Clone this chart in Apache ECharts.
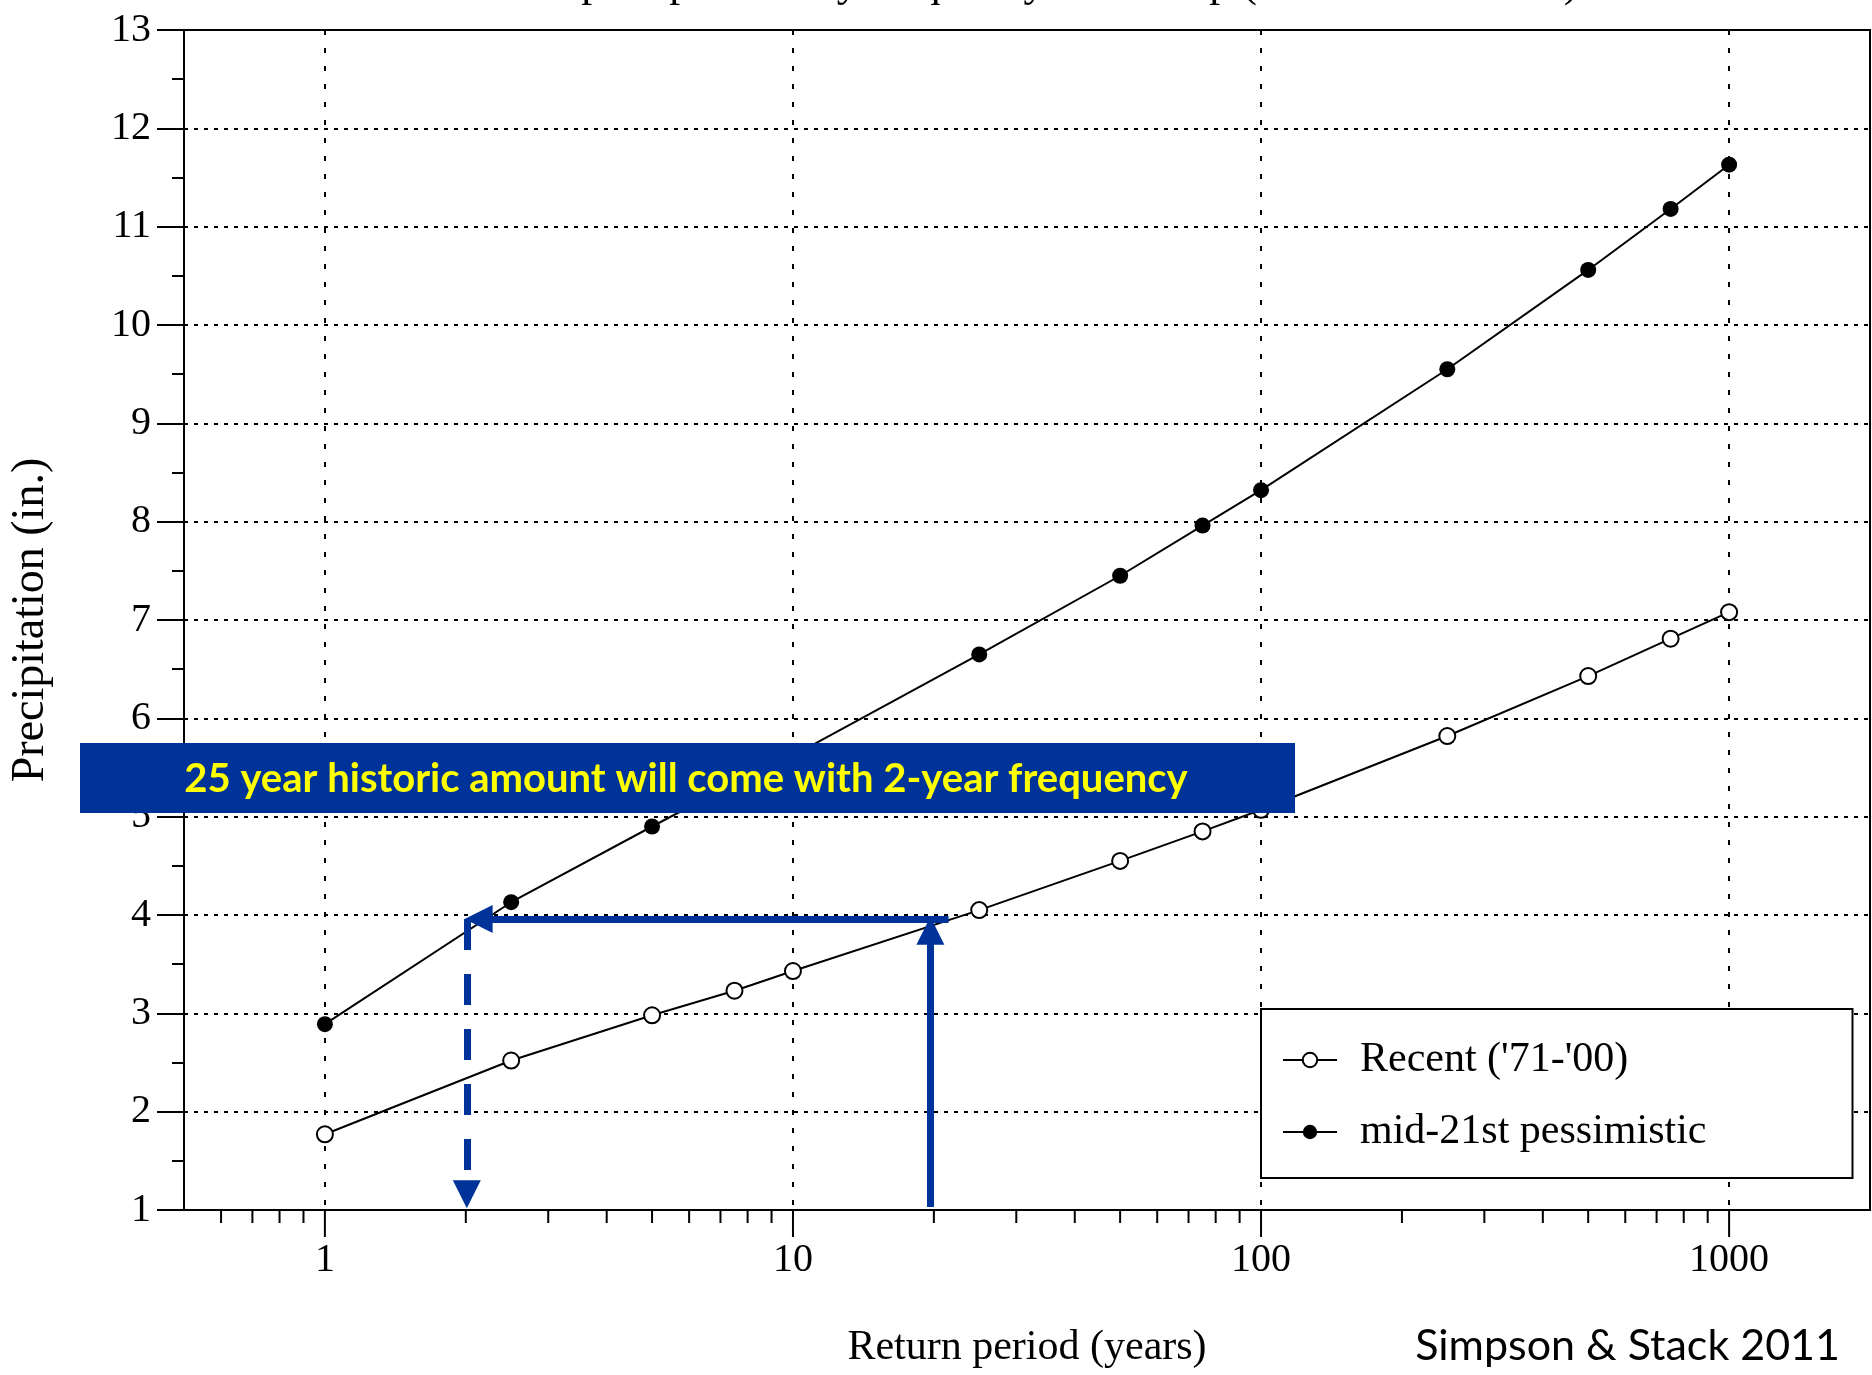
<!DOCTYPE html>
<html>
<head>
<meta charset="utf-8">
<title>Return period vs precipitation</title>
<script src="https://cdn.jsdelivr.net/npm/echarts@6/dist/echarts.min.js"></script>
<style>
  html, body { margin: 0; padding: 0; background: #fff; }
  #chart { width: 1872px; height: 1375px; }
</style>
</head>
<body>
<div id="chart"></div>
<script>
// return periods (years) of the plotted points
var returnPeriods = [1, 2.5, 5, 7.5, 10, 25, 50, 75, 100, 250, 500, 750, 1000];
// precipitation (in.)
var recentValues = [1.77, 2.52, 2.98, 3.23, 3.43, 4.05, 4.55, 4.85, 5.07, 5.82, 6.43, 6.81, 7.08];
var futureValues = [2.89, 4.13, 4.90, 5.34, 5.62, 6.65, 7.45, 7.96, 8.32, 9.55, 10.56, 11.18, 11.63];

var seriesNames = ["Recent ('71-'00)", 'mid-21st pessimistic'];

// log axis ticks
var majorTicks = [1, 10, 100, 1000];
var minorTicks = [0.6, 0.7, 0.8, 0.9,
    2, 3, 4, 5, 6, 7, 8, 9,
    20, 30, 40, 50, 60, 70, 80, 90,
    200, 300, 400, 500, 600, 700, 800, 900];

// annotation arrows: 25-yr recent amount -> 2-yr future frequency
var arrowUp = [[19.66, 1.03], [19.66, 3.84]];
var arrowLeft = [[21.5, 3.96], [2.13, 3.96]];
var arrowDown = [[2.01, 3.96], [2.01, 1.16]];

var bannerText = '25 year historic amount will come with 2-year frequency';
var creditText = 'Simpson & Stack 2011';
var titleText = '24-hour precipitation by frequency for Group (Northeast Illinois)';

var serif = '"Liberation Serif", "Times New Roman", serif';
var blue = '#003399';

function pairs(xs, ys) {
    return xs.map(function (x, i) { return [x, ys[i]]; });
}

var tickData = majorTicks.map(function (v) { return [v, 1, 27]; })
    .concat(minorTicks.map(function (v) { return [v, 1, 13]; }));

var chart = echarts.init(document.getElementById('chart'));

var option = {
    animation: false,
    backgroundColor: '#fff',
    grid: {
        left: 179, right: 2, top: 30, bottom: 165,
        show: true, borderColor: '#000', borderWidth: 2, backgroundColor: 'transparent'
    },
    legend: {
        orient: 'vertical',
        left: 1261, top: 1009,
        padding: [29, 146, 24, 21],
        itemGap: 28,
        itemWidth: 54,
        itemHeight: 18,
        backgroundColor: '#fff',
        borderColor: '#000',
        borderWidth: 2,
        borderRadius: 0,
        data: seriesNames,
        textStyle: {
            fontFamily: serif, fontSize: 42, color: '#000', lineHeight: 44,
            padding: [0, 0, 0, 18]
        }
    },
    xAxis: {
        type: 'log',
        logBase: 10,
        min: 0.5,
        max: 2000,
        name: 'Return period (years)',
        nameLocation: 'middle',
        nameGap: 117,
        nameTextStyle: { fontFamily: serif, fontSize: 42, color: '#000' },
        axisLine: { lineStyle: { color: '#000', width: 2 } },
        axisTick: { show: false },
        axisLabel: {
            showMinLabel: false, showMaxLabel: false,
            margin: 30,
            fontFamily: serif, fontSize: 40, color: '#000',
            formatter: function (v) { return String(v); }
        },
        splitLine: { show: true, lineStyle: { color: '#000', width: 2, type: [5, 13] } }
    },
    yAxis: {
        type: 'value',
        min: 1,
        max: 13,
        interval: 1,
        name: 'Precipitation (in.)',
        nameLocation: 'middle',
        nameGap: 130,
        nameTextStyle: { fontFamily: serif, fontSize: 46, color: '#000' },
        axisLine: { show: true, lineStyle: { color: '#000', width: 2 } },
        axisTick: { show: true, length: 27, lineStyle: { color: '#000', width: 2 } },
        minorTick: { show: true, splitNumber: 2, length: 12, lineStyle: { color: '#000', width: 2 } },
        axisLabel: { margin: 33, fontFamily: serif, fontSize: 40, color: '#000' },
        splitLine: { show: true, lineStyle: { color: '#000', width: 2, type: [4, 6] } }
    },
    series: [
        {
            name: seriesNames[0],
            type: 'line',
            data: pairs(returnPeriods, recentValues),
            symbol: 'emptyCircle',
            symbolSize: 16,
            showAllSymbol: true,
            lineStyle: { color: '#000', width: 2 },
            itemStyle: { color: '#000', borderWidth: 1.5 },
            z: 3
        },
        {
            name: seriesNames[1],
            type: 'line',
            data: pairs(returnPeriods, futureValues),
            symbol: 'circle',
            symbolSize: 16,
            showAllSymbol: true,
            lineStyle: { color: '#000', width: 2 },
            itemStyle: { color: '#000' },
            z: 3
        },
        {
            // arrows
            type: 'line',
            data: [],
            silent: true,
            z: 5,
            markLine: {
                silent: true,
                animation: false,
                symbol: ['none', 'triangle'],
                symbolSize: 28,
                label: { show: false },
                emphasis: { disabled: true },
                itemStyle: { color: blue },
                lineStyle: { color: blue, width: 7, type: 'solid' },
                data: [
                    [{ coord: arrowUp[0] }, { coord: arrowUp[1] }],
                    [{ coord: arrowLeft[0] }, { coord: arrowLeft[1] }],
                    [{ coord: arrowDown[0], lineStyle: { type: [31, 24], color: blue, width: 7 } },
                     { coord: arrowDown[1] }]
                ]
            }
        },
        {
            // log-axis major and minor ticks below the x axis
            type: 'custom',
            silent: true,
            clip: false,
            data: tickData,
            encode: { x: 0, y: 1 },
            renderItem: function (params, api) {
                var p = api.coord([api.value(0), api.value(1)]);
                var len = api.value(2);
                return {
                    type: 'line',
                    shape: { x1: p[0], y1: p[1], x2: p[0], y2: p[1] + len },
                    style: { stroke: '#000', lineWidth: 2 }
                };
            },
            z: 4
        }
    ],
    graphic: [
        {
            type: 'text', x: 431, y: -16, z: 50,
            style: { text: titleText, font: '44px ' + serif, fill: '#000', align: 'left', verticalAlign: 'middle' }
        },
        {
            type: 'rect', z: 100,
            shape: { x: 80, y: 743, width: 1215, height: 70 },
            style: { fill: blue }
        },
        {
            type: 'text', x: 686, y: 779, z: 101,
            style: { text: bannerText, font: 'bold 40px Lato', fill: '#ffff00', align: 'center', verticalAlign: 'middle' }
        },
        {
            type: 'text', x: 1840, y: 1346, z: 50,
            style: { text: creditText, font: '43px Lato', fill: '#000', align: 'right', verticalAlign: 'middle' }
        }
    ]
};

chart.setOption(option);
</script>
</body>
</html>
